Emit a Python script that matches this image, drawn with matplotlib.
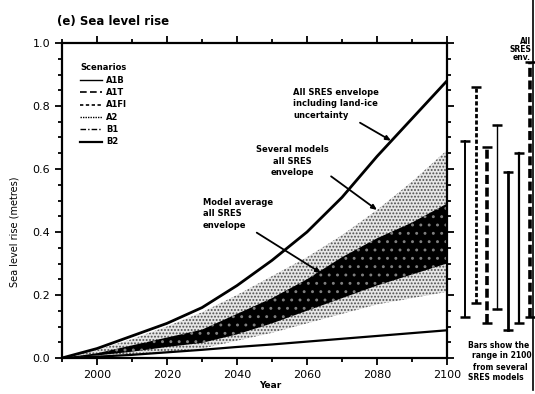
import numpy as np
import matplotlib
matplotlib.use('Agg')
import matplotlib.pyplot as plt
from matplotlib.lines import Line2D

# --- data ---
years = [1990, 2000, 2010, 2020, 2030, 2040, 2050, 2060, 2070, 2080, 2090, 2100]
ice_hi = [0, 0.03, 0.07, 0.11, 0.16, 0.23, 0.31, 0.40, 0.51, 0.64, 0.76, 0.88]
ice_lo = [0, 0.004, 0.01, 0.018, 0.026, 0.035, 0.043, 0.052, 0.061, 0.07, 0.079, 0.088]
several_hi = [0, 0.025, 0.06, 0.10, 0.145, 0.20, 0.26, 0.32, 0.39, 0.47, 0.56, 0.66]
several_lo = [0, 0.005, 0.012, 0.02, 0.03, 0.055, 0.08, 0.11, 0.14, 0.17, 0.19, 0.21]
average_hi = [0, 0.015, 0.04, 0.065, 0.09, 0.14, 0.19, 0.25, 0.32, 0.38, 0.43, 0.49]
average_lo = [0, 0.008, 0.02, 0.035, 0.048, 0.075, 0.11, 0.15, 0.19, 0.23, 0.265, 0.30]

scenarios = ['A1B', 'A1T', 'A1FI', 'A2', 'B1', 'B2']
scen_styles = ['-', (0, (4, 2)), (0, (2, 1.5)), (0, (1, 0.8)), (0, (4, 1.5, 1, 1.5)), '-']
scen_widths = [1.0, 1.2, 1.2, 1.0, 1.0, 1.6]

# range in 2100 (right hand bars)
bar_top = [0.69, 0.86, 0.67, 0.74, 0.59, 0.65, 0.94]
bar_bottom = [0.13, 0.175, 0.11, 0.155, 0.09, 0.11, 0.13]
bar_styles = ['-', (0, (1.5, 0.8)), (0, (2.5, 1)), '-', '-', '-', (0, (2.5, 1))]
bar_widths = [1.4, 2.0, 2.6, 1.0, 2.0, 1.6, 2.6]

plt.rcParams['hatch.linewidth'] = 0.9

fig = plt.figure(figsize=(5.35, 3.94), dpi=100)
ax = fig.add_axes([62/535, 1-358/394, 385/535, 315/394])

# envelopes
ax.fill_between(years, several_lo, several_hi, facecolor='0.9', edgecolor='0.3',
                hatch='.....', lw=0, zorder=1)
ax.fill_between(years, average_lo, average_hi, facecolor='0.0', edgecolor='0.5',
                hatch='..', lw=0, zorder=2)
ax.plot(years, ice_hi, color='k', lw=2.0, zorder=3)
ax.plot(years, ice_lo, color='k', lw=1.6, zorder=3)

ax.set_xlim(1990, 2100)
ax.set_ylim(0, 1.0)
ax.set_xticks(range(2000, 2101, 20))
ax.set_xticks(range(1990, 2101, 10), minor=True)
ax.set_yticks(np.arange(0, 1.01, 0.2))
ax.set_yticks(np.arange(0, 1.01, 0.05), minor=True)
ax.yaxis.set_major_formatter('{x:.1f}')
ax.tick_params(which='both', direction='out', top=True, right=True, width=1.3,
               labelsize=8)
ax.tick_params(which='major', length=5)
ax.tick_params(which='minor', length=3)
for s in ax.spines.values():
    s.set_linewidth(1.6)

ax.set_ylabel('Sea level rise (metres)', fontsize=7)
ax.yaxis.set_label_coords(-0.11, 0.40)
ax.set_xlabel('Year', fontsize=6.5, fontweight='bold')
ax.xaxis.set_label_coords(0.54, -0.073)

# legend
handles = [Line2D([], [], color='k', ls=st, lw=w) for st, w in zip(scen_styles, scen_widths)]
ax.legend(handles, scenarios, title='Scenarios', loc='upper left',
          bbox_to_anchor=(0.047, 0.935), frameon=False, alignment='left',
          prop={'weight': 'bold', 'size': 6},
          title_fontproperties={'weight': 'bold', 'size': 6},
          handlelength=2.6, handletextpad=0.5, labelspacing=0.4,
          borderaxespad=0, borderpad=0)

# annotations
arrow = dict(arrowstyle='-|>,head_length=0.5,head_width=0.22', color='k', lw=1.3,
             shrinkA=0, shrinkB=0)
ax.annotate('All SRES envelope\nincluding land-ice\nuncertainty', xy=(2084, 0.69),
            xytext=(2056, 0.857), ha='left', va='top', fontsize=6, fontweight='bold',
            linespacing=1.35, arrowprops=dict(arrow, relpos=(0.66, 0.1)), zorder=5)
ax.annotate('Several models\nall SRES\nenvelope', xy=(2080, 0.47),
            xytext=(2055.7, 0.676), ha='center', va='top', fontsize=6, fontweight='bold',
            linespacing=1.35, multialignment='center',
            arrowprops=dict(arrow, relpos=(0.78, 0.45)), zorder=5)
ax.annotate('Model average\nall SRES\nenvelope', xy=(2064, 0.27),
            xytext=(2030.3, 0.508), ha='left', va='top', fontsize=6, fontweight='bold',
            linespacing=1.35, arrowprops=dict(arrow, relpos=(0.63, 0.1)), zorder=5)

fig.text(57/535, 1-21/394, '(e) Sea level rise', fontsize=8.5, fontweight='bold',
         ha='left', va='center')

# bars at the right
ax2 = fig.add_axes([452/535, 1-358/394, 83/535, 315/394])
ax2.set_xlim(-1.2, 6.48)
ax2.set_ylim(0, 1.0)
ax2.axis('off')
for i in range(len(bar_top)):
    ax2.plot([i, i], [bar_bottom[i], bar_top[i]], color='k', ls=bar_styles[i],
             lw=bar_widths[i], clip_on=False)
    ax2.plot([i, i], [bar_bottom[i], bar_top[i]], ls='none', marker='_', ms=6.5,
             mew=1.8, color='k', clip_on=False)

notes = ['Bars show the', 'range in 2100', 'from several', 'SRES models']
note_x = [468, 472, 473, 468]
note_y = [345, 356, 367, 378]
for t, x, y in zip(notes, note_x, note_y):
    fig.text(x/535, 1-y/394, t, fontsize=5.5, fontweight='bold', ha='left', va='center')

top_notes = ['All', 'SRES', 'env.']
for t, y in zip(top_notes, [41, 50, 58]):
    fig.text(531/535, 1-y/394, t, fontsize=5.5, fontweight='bold', ha='right', va='center')

fig.add_artist(Line2D([533/535, 533/535], [0.01, 1.0], transform=fig.transFigure,
                      color='k', lw=1.2))

fig.savefig('out.png', dpi=100)
